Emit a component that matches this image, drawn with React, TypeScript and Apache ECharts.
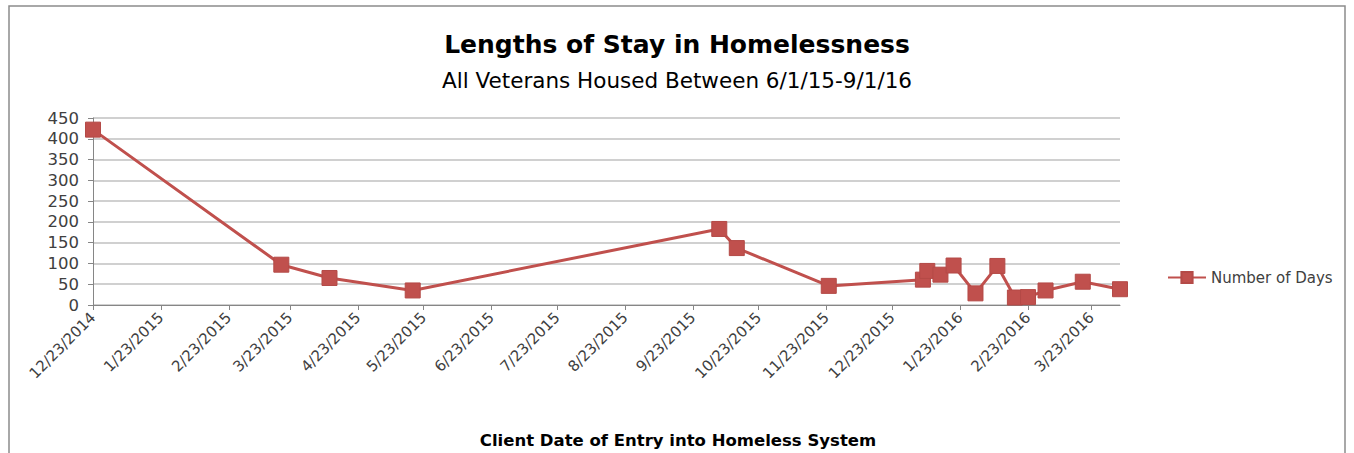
import React, { useEffect, useRef } from "react";
import * as echarts from "echarts";

const entryDates = [
  "12/23/2014", "3/19/2015", "4/10/2015", "5/18/2015", "10/5/2015", "10/13/2015",
  "11/24/2015", "1/6/2016", "1/8/2016", "1/14/2016", "1/20/2016", "1/30/2016",
  "2/9/2016", "2/17/2016", "2/23/2016", "3/2/2016", "3/19/2016", "4/5/2016",
];
const daysValues = [422, 97, 65, 35, 183, 137, 46, 61, 82, 73, 95, 28, 94, 18, 19, 35, 56, 38];
const axisStart = [2014, 11, 23];
const axisEnd = [2016, 3, 5];
const lastLabelled = "3/23/2016";
const yTicks = [0, 50, 100, 150, 200, 250, 300, 350, 400, 450];

const fmt = (d: Date) => `${d.getUTCMonth() + 1}/${d.getUTCDate()}/${d.getUTCFullYear()}`;

function buildCategories(): string[] {
  const out: string[] = [];
  let t = Date.UTC(axisStart[0], axisStart[1], axisStart[2]);
  const end = Date.UTC(axisEnd[0], axisEnd[1], axisEnd[2]);
  while (t <= end) {
    out.push(fmt(new Date(t)));
    t += 86400000;
  }
  return out;
}

export default function App() {
  const ref = useRef<HTMLDivElement>(null);
  useEffect(() => {
    if (!ref.current) return;
    const chart = echarts.init(ref.current, undefined, { renderer: "svg" });
    const cats = buildCategories();
    const lastIdx = cats.indexOf(lastLabelled);
    const showAt = (i: number, v: string) => i <= lastIdx && v.split("/")[1] === "23";
    const font = "DejaVu Sans";
    chart.setOption({
      animation: false,
      backgroundColor: "#ffffff",
      title: {
        text: "Lengths of Stay in Homelessness",
        subtext: "All Veterans Housed Between 6/1/15-9/1/16",
        left: "center",
        top: 27,
        itemGap: 12,
        textStyle: { fontFamily: font, fontWeight: "bold", fontSize: 25, color: "#000" },
        subtextStyle: { fontFamily: font, fontSize: 21.5, color: "#000" },
      },
      legend: {
        left: 1162,
        top: 265,
        itemWidth: 38,
        itemHeight: 14,
        itemGap: 4,
        textStyle: { fontFamily: font, fontSize: 15, color: "#404040" },
        data: ["Number of Days"],
      },
      grid: { left: 93, right: 234, top: 118, bottom: 148, outerBoundsMode: "none" },
      xAxis: {
        type: "category",
        data: cats,
        boundaryGap: false,
        axisLine: { show: true, lineStyle: { color: "#868686", width: 1 } },
        axisTick: { show: true, length: 5, interval: (i: number, v: string) => showAt(i, v), lineStyle: { color: "#868686" } },
        axisLabel: {
          interval: (i: number, v: string) => showAt(i, v),
          rotate: 45,
          margin: 10,
          fontFamily: font,
          fontSize: 15,
          color: "#404040",
        },
        splitLine: { show: false },
      },
      yAxis: {
        type: "value",
        min: 0,
        max: yTicks[yTicks.length - 1],
        interval: 50,
        axisLine: { show: true, lineStyle: { color: "#868686", width: 1 } },
        axisTick: { show: true, length: 5, lineStyle: { color: "#868686" } },
        axisLabel: { fontFamily: font, fontSize: 16.5, color: "#404040", margin: 14 },
        splitLine: { show: true, lineStyle: { color: "#C0C0C0", width: 1.5 } },
      },
      graphic: [
        {
          type: "rect",
          shape: { x: 9, y: 6, width: 1336, height: 460 },
          style: { fill: "none", stroke: "#8C8C8C", lineWidth: 1.5 },
          silent: true,
        },
        {
          type: "text",
          x: 678,
          y: 440,
          style: {
            text: "Client Date of Entry into Homeless System",
            fontFamily: font,
            fontWeight: "bold",
            fontSize: 16.5,
            fill: "#000",
            textAlign: "center",
            textVerticalAlign: "middle",
          },
          silent: true,
        },
      ],
      series: [
        {
          name: "Number of Days",
          type: "line",
          data: entryDates.map((d, i) => [d, daysValues[i]]),
          symbol: "rect",
          symbolSize: 15,
          showSymbol: true,
          showAllSymbol: true,
          lineStyle: { color: "#C0504D", width: 3 },
          itemStyle: { color: "#C0504D", borderColor: "#B44A47", borderWidth: 1 },
        },
      ],
    });
    return () => chart.dispose();
  }, []);
  return (
    <div
      ref={ref}
      style={{ position: "absolute", left: 0, top: 0, width: 1354, height: 453, background: "#fff" }}
    />
  );
}
